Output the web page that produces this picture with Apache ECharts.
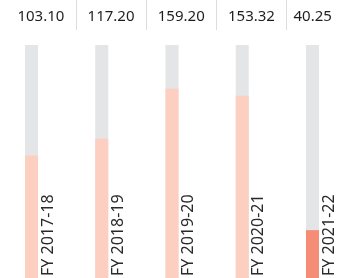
<!DOCTYPE html>
<html><head><meta charset="utf-8">
<script src="https://cdn.jsdelivr.net/npm/echarts@6/dist/echarts.min.js"></script>
<style>html,body{margin:0;padding:0;background:#fff}#c{width:350px;height:278px}</style>
</head><body><div id="c"></div>
<script>
var categories = ['FY 2017-18', 'FY 2018-19', 'FY 2019-20', 'FY 2020-21', 'FY 2021-22'];
var values = [103.10, 117.20, 159.20, 153.32, 40.25];
var valueLabels = ['103.10', '117.20', '159.20', '153.32', '40.25'];
var trackMax = 196;

var chart = echarts.init(document.getElementById('c'));
var font = '"Noto Sans", sans-serif';
chart.setOption({
  animation: false,
  grid: [
    {left: -3.6, right: 2.4, top: 45, bottom: 0, outerBoundsMode: 'none', containLabel: false},
    {left: 5.75, right: -6.75, top: 0, height: 30, outerBoundsMode: 'none', containLabel: false}
  ],
  xAxis: [
    {type: 'category', data: categories, gridIndex: 0, show: false},
    {type: 'category', gridIndex: 1, position: 'bottom',
     data: valueLabels.map(function (v, i) {
       return i === valueLabels.length - 1 ? {value: v, textStyle: {padding: [0, 18, 0, 0]}} : v;
     }),
     axisLine: {show: false}, axisTick: {show: false},
     axisLabel: {margin: -21, fontSize: 15, color: '#1e1e1e', fontFamily: font},
     splitLine: {show: true, showMinLine: false, showMaxLine: false, lineStyle: {color: '#dcdcdc', width: 1}}}
  ],
  yAxis: [
    {type: 'value', min: 0, max: trackMax, gridIndex: 0, show: false},
    {type: 'value', gridIndex: 1, show: false}
  ],
  series: [
    {type: 'bar', xAxisIndex: 0, yAxisIndex: 0, barWidth: 13, barGap: '-100%',
     data: categories.map(function () { return trackMax; }),
     itemStyle: {color: '#e4e5e7'}, silent: true,
     label: {show: true, position: ['100%', '100%'], offset: [2, 10], rotate: 90,
             align: 'left', verticalAlign: 'middle', fontSize: 16, color: '#2a2a2a', fontFamily: font,
             formatter: function (p) { return p.name; }}},
    {type: 'bar', xAxisIndex: 0, yAxisIndex: 0, barWidth: 13,
     data: values.map(function (v, i) {
       return {value: v, itemStyle: {color: i === values.length - 1 ? '#f58c76' : '#fdcfc0'}};
     })}
  ]
});
</script></body></html>
